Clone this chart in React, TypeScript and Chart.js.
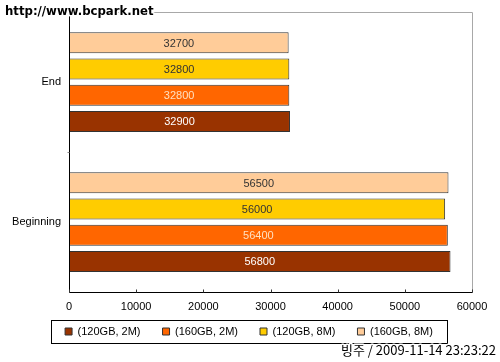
import React, { useEffect, useRef } from "react";
import { Chart, registerables } from "chart.js";
Chart.register(...registerables);

const categories = ["End", "Beginning"];
const seriesNames = ["(120GB, 2M)", "(160GB, 2M)", "(120GB, 8M)", "(160GB, 8M)"];
const s120GB2M = [32900, 56800];
const s160GB2M = [32800, 56400];
const s120GB8M = [32800, 56000];
const s160GB8M = [32700, 56500];
const xTicks = [0, 10000, 20000, 30000, 40000, 50000, 60000];
const seriesColors = ["#993300", "#FF6600", "#FFCC00", "#FFCC99"];
const valueTextColors = ["#ffffff", "#ffe0c0", "#333333", "#333333"];
const watermark = "http://www.bcpark.net";
const stamp = "빙주 / 2009-11-14 23:23:22";

const FONT = "'Liberation Sans', Arial, sans-serif";

const decorPlugin = {
  id: "decor",
  afterLayout(chart: any) {
    const lg = chart.legend;
    if (lg) {
      lg.left += 13;
      lg.right += 13;
      lg.top -= 11;
      lg.bottom -= 11;
    }
  },
  afterDatasetsDraw(chart: any) {
    const ctx = chart.ctx;
    ctx.save();
    ctx.font = `11px ${FONT}`;
    ctx.textAlign = "center";
    ctx.textBaseline = "middle";
    chart.data.datasets.forEach((ds: any, di: number) => {
      const meta = chart.getDatasetMeta(di);
      meta.data.forEach((el: any, i: number) => {
        ctx.fillStyle = ds.valueColor;
        ctx.fillText(String(ds.data[i]), (el.x + el.base) / 2, el.y + 1);
      });
    });
    ctx.restore();
  },
  afterDraw(chart: any) {
    const ctx = chart.ctx;
    const a = chart.chartArea;
    const xs = chart.scales.x;
    const ys = chart.scales.y;
    const L = Math.round(a.left) + 0.5;
    const T = Math.round(a.top) + 0.5;
    const R = Math.round(a.right) + 0.5;
    const B = Math.round(a.bottom) + 0.5;
    ctx.save();
    ctx.lineWidth = 1;
    ctx.strokeStyle = "#a8a8a8";
    ctx.beginPath();
    ctx.moveTo(L, T);
    ctx.lineTo(R, T);
    ctx.lineTo(R, B);
    ctx.stroke();
    ctx.strokeStyle = "#000";
    ctx.beginPath();
    ctx.moveTo(L, T);
    ctx.lineTo(L, B);
    ctx.lineTo(R, B);
    ctx.stroke();
    ctx.strokeStyle = "#333";
    xs.ticks.forEach((t: any) => {
      const px = Math.round(xs.getPixelForValue(t.value)) + 0.5;
      ctx.beginPath();
      ctx.moveTo(px, B);
      ctx.lineTo(px, B - 3);
      ctx.stroke();
    });
    ctx.strokeStyle = "#888";
    for (let i = 1; i < categories.length; i++) {
      const py = Math.round((ys.getPixelForValue(i - 1) + ys.getPixelForValue(i)) / 2) + 0.5;
      ctx.beginPath();
      ctx.moveTo(L - 2, py);
      ctx.lineTo(L, py);
      ctx.stroke();
    }
    const lg = chart.legend;
    if (lg && lg.legendHitBoxes && lg.legendHitBoxes.length) {
      let l = Infinity, r = -Infinity, t = Infinity, b = -Infinity;
      lg.legendHitBoxes.forEach((h: any) => {
        l = Math.min(l, h.left);
        r = Math.max(r, h.left + h.width);
        t = Math.min(t, h.top);
        b = Math.max(b, h.top + h.height);
      });
      ctx.strokeStyle = "#000";
      ctx.strokeRect(Math.round(l - 14) + 0.5, Math.round(t - 6) + 0.5, Math.round(r - l + 28), Math.round(b - t + 12));
    }
    ctx.font = `bold 13px 'DejaVu Sans Condensed', 'DejaVu Sans', sans-serif`;
    ctx.textAlign = "left";
    ctx.textBaseline = "middle";
    ctx.lineJoin = "round";
    ctx.lineWidth = 3;
    ctx.strokeStyle = "#fff";
    ctx.strokeText(watermark, 5, 12);
    ctx.fillStyle = "#000";
    ctx.fillText(watermark, 5, 12);
    ctx.font = `13px 'Noto Sans CJK KR', sans-serif`;
    ctx.textAlign = "right";
    ctx.strokeText(stamp, 496, 350);
    ctx.fillText(stamp, 496, 350);
    ctx.restore();
  },
};

export default function App() {
  const ref = useRef<HTMLCanvasElement | null>(null);
  useEffect(() => {
    document.body.style.margin = "0";
    const canvas = ref.current;
    if (!canvas) return;
    const order = [3, 2, 1, 0];
    const all = [s120GB2M, s160GB2M, s120GB8M, s160GB8M];
    const chart = new Chart(canvas, {
      type: "bar",
      data: {
        labels: categories,
        datasets: order.map((k) => ({
          label: seriesNames[k],
          data: all[k],
          backgroundColor: seriesColors[k],
          borderColor: "#333333",
          borderWidth: 1,
          borderSkipped: false,
          valueColor: valueTextColors[k],
          categoryPercentage: 0.75,
          barPercentage: 0.8,
        })) as any,
      },
      options: {
        indexAxis: "y",
        animation: false,
        responsive: false,
        devicePixelRatio: 1,
        layout: { padding: { top: 12, right: 28, left: 0, bottom: 4 } },
        plugins: {
          legend: {
            position: "bottom",
            reverse: true,
            labels: {
              boxWidth: 7,
              boxHeight: 7,
              padding: 22,
              color: "#000",
              font: { family: FONT, size: 11 },
            },
          },
          tooltip: { enabled: false },
        },
        scales: {
          x: {
            min: 0,
            max: 60000,
            afterBuildTicks: (s: any) => {
              s.ticks = xTicks.map((v) => ({ value: v }));
            },
            afterFit: (s: any) => {
              s.height = 23;
            },
            grid: { display: false, drawTicks: false },
            border: { display: false },
            ticks: {
              color: "#000",
              padding: 8,
              font: { family: FONT, size: 11 },
              callback: (v: any) => String(v),
            },
          },
          y: {
            afterFit: (s: any) => {
              s.width = 69;
              s.paddingTop = 0;
              s.paddingBottom = 0;
            },
            grid: { display: false, drawTicks: false },
            border: { display: false },
            ticks: {
              color: "#000",
              padding: 8,
              font: { family: FONT, size: 11 },
            },
          },
        },
      } as any,
      plugins: [decorPlugin],
    });
    return () => chart.destroy();
  }, []);
  return (
    <div style={{ width: 500, height: 362, background: "#fff" }}>
      <canvas ref={ref} width={500} height={362} style={{ display: "block" }} />
    </div>
  );
}
